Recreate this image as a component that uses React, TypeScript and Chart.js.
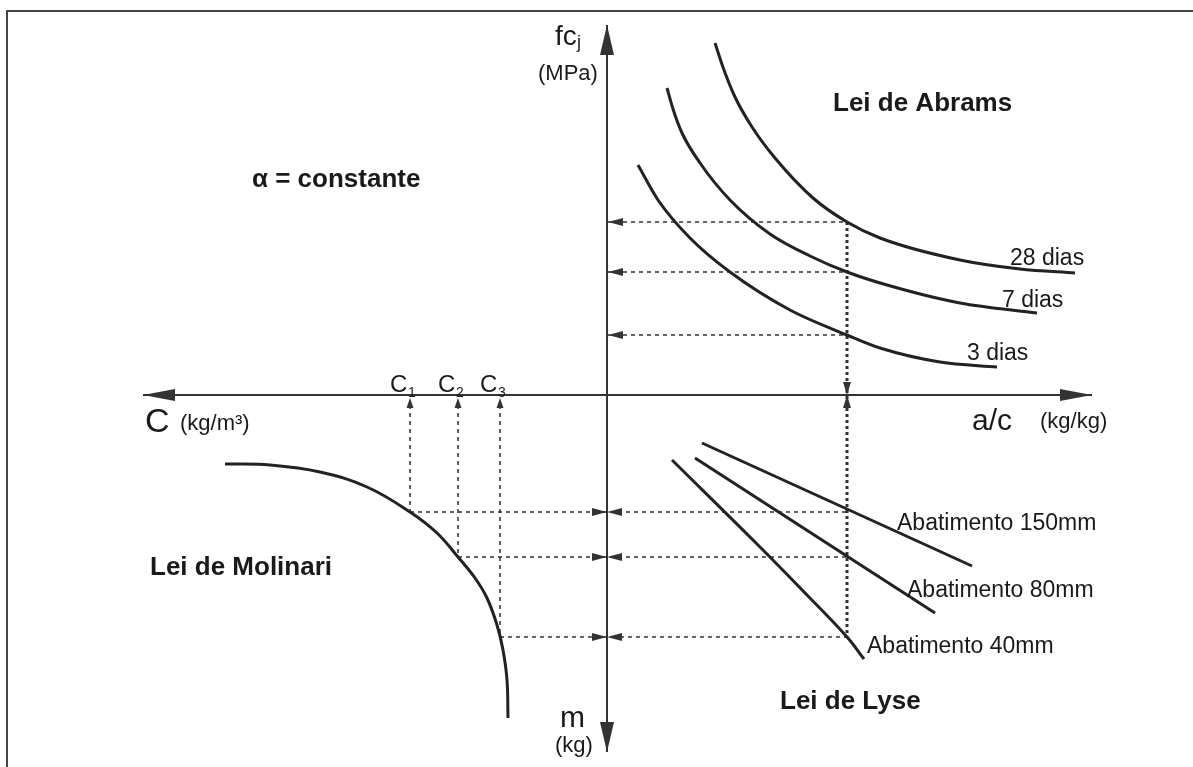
import React, { useEffect, useRef } from "react";
import { Chart, registerables } from "chart.js";

Chart.register(...registerables);

// Diagram coordinates: origin at the crossing of the axes (a/c to the right, fcj up, C to the left, m down)
const abrams28X = [108, 117, 128, 145, 168, 206, 240, 273, 353, 413, 468];
const abrams28Y = [352, 325, 298, 268, 237, 197, 173, 157, 135, 126, 122];
const abrams7X = [60, 66, 75, 93, 123, 163, 203, 240, 280, 353, 430];
const abrams7Y = [307, 286, 262, 232, 195, 161, 139, 123, 110, 92, 82];
const abrams3X = [31, 51, 83, 123, 183, 240, 273, 333, 390];
const abrams3Y = [230, 195, 157, 123, 85, 60, 47, 33, 28];

const lyse150X = [95, 365];
const lyse150Y = [-48, -171];
const lyse80X = [88, 328];
const lyse80Y = [-63, -218];
const lyse40X = [65, 150, 200, 240, 257];
const lyse40Y = [-65, -149, -200, -242, -264];

const molinariX = [-382, -337, -287, -240, -197, -170, -149, -132, -120, -110, -104, -100, -99];
const molinariY = [-69, -70, -77, -92, -117, -138, -162, -183, -203, -230, -255, -285, -323];

// Reading construction: chosen a/c and the read values
const acChosen = 240;
const fcRead = [173, 123, 60];
const mRead = [-117, -162, -242];
const cRead = [-197, -149, -107];
const cLabels = ["1", "2", "3"];

const axisX = [-464, 485];
const axisY = [-357, 370];

const pts = (xs: number[], ys: number[]) => xs.map((x, i) => ({ x, y: ys[i] }));

export default function App() {
  const ref = useRef<HTMLCanvasElement | null>(null);

  useEffect(() => {
    if (!ref.current) return;
    const ink = "#222";
    const curve = (data: any[]) => ({
      data,
      showLine: true,
      borderColor: ink,
      borderWidth: 3,
      pointRadius: 0,
      cubicInterpolationMode: "monotone" as const,
      fill: false,
      clip: false as any,
    });
    const smooth = (data: any[]) => ({
      data,
      showLine: true,
      borderColor: ink,
      borderWidth: 3,
      pointRadius: 0,
      tension: 0.4,
      fill: false,
      clip: false as any,
    });
    const straight = (data: any[], width = 3) => ({
      data,
      showLine: true,
      borderColor: ink,
      borderWidth: width,
      pointRadius: 0,
      tension: 0,
      fill: false,
      clip: false as any,
    });
    const guide = (data: any[], width = 1.5, dash = [4, 4]) => ({
      data,
      showLine: true,
      borderColor: "#333",
      borderWidth: width,
      borderDash: dash,
      pointRadius: 0,
      tension: 0,
      fill: false,
    });

    const datasets: any[] = [
      // axes
      { ...straight(pts([0, 0], axisY), 2), borderColor: "#333" },
      { ...straight(pts(axisX, [0, 0]), 2), borderColor: "#333" },
      // Abrams
      curve(pts(abrams28X, abrams28Y)),
      curve(pts(abrams7X, abrams7Y)),
      curve(pts(abrams3X, abrams3Y)),
      // Lyse
      straight(pts(lyse150X, lyse150Y)),
      straight(pts(lyse80X, lyse80Y)),
      smooth(pts(lyse40X, lyse40Y)),
      // Molinari
      smooth(pts(molinariX, molinariY)),
      // vertical reading line
      guide([{ x: acChosen, y: fcRead[0] }, { x: acChosen, y: mRead[2] }], 3, [3, 3]),
    ];
    fcRead.forEach((y) => datasets.push(guide([{ x: 0, y }, { x: acChosen, y }])));
    mRead.forEach((y, i) => {
      datasets.push(guide([{ x: cRead[i], y }, { x: acChosen, y }]));
      datasets.push(guide([{ x: cRead[i], y: -10 }, { x: cRead[i], y }]));
    });

    const annot = {
      id: "annot",
      beforeDraw(chart: any) {
        const c = chart.ctx;
        c.save();
        c.fillStyle = "#fff";
        c.fillRect(0, 0, chart.width, chart.height);
        c.strokeStyle = "#444";
        c.lineWidth = 2;
        c.beginPath();
        c.moveTo(7, chart.height);
        c.lineTo(7, 11);
        c.lineTo(chart.width, 11);
        c.stroke();
        c.restore();
      },
      afterDraw(chart: any) {
        const c = chart.ctx;
        const sx = chart.scales.x;
        const sy = chart.scales.y;
        const X = (v: number) => sx.getPixelForValue(v);
        const Y = (v: number) => sy.getPixelForValue(v);
        c.save();
        c.fillStyle = "#333";
        const tri = (tx: number, ty: number, dx: number, dy: number, len: number, hw: number) => {
          const bx = tx - dx * len;
          const by = ty - dy * len;
          c.beginPath();
          c.moveTo(tx, ty);
          c.lineTo(bx - dy * hw, by + dx * hw);
          c.lineTo(bx + dy * hw, by - dx * hw);
          c.closePath();
          c.fill();
        };
        // axis arrows
        tri(X(0), Y(axisY[1]), 0, -1, 30, 7);
        tri(X(0), Y(axisY[0]), 0, 1, 30, 7);
        tri(X(axisX[0]), Y(0), -1, 0, 32, 6);
        tri(X(axisX[1]), Y(0), 1, 0, 32, 6);
        // fc reading arrows
        fcRead.forEach((v) => tri(X(0) + 1, Y(v), -1, 0, 15, 4));
        // C arrows
        cRead.forEach((v) => tri(X(v), Y(0) + 3, 0, -1, 10, 3.5));
        // bowties on m axis
        mRead.forEach((v) => {
          tri(X(0), Y(v), 1, 0, 15, 4);
          tri(X(0), Y(v), -1, 0, 15, 4);
        });
        // bowtie at chosen a/c
        tri(X(acChosen), Y(0), 0, 1, 13, 4);
        tri(X(acChosen), Y(0), 0, -1, 13, 4);

        c.fillStyle = "#1a1a1a";
        c.textBaseline = "alphabetic";
        c.textAlign = "left";
        const F = "'Liberation Sans', Arial, sans-serif";
        const txt = (s: string, x: number, y: number, size: number, bold = false) => {
          c.font = `${bold ? "bold " : ""}${size}px ${F}`;
          c.fillText(s, X(x), Y(y));
        };
        txt("Lei de Abrams", 226, 284, 26, true);
        txt("α = constante", -355, 208, 26, true);
        txt("Lei de Molinari", -457, -180, 26, true);
        txt("Lei de Lyse", 173, -314, 26, true);
        txt("28 dias", 403, 130, 23);
        txt("7 dias", 395, 88, 23);
        txt("3 dias", 360, 35, 23);
        txt("Abatimento 150mm", 290, -135, 23);
        txt("Abatimento 80mm", 300, -202, 23);
        txt("Abatimento 40mm", 260, -258, 23);
        txt("fc", -52, 350, 28);
        txt("j", -30, 347, 18);
        txt("(MPa)", -69, 315, 22);
        txt("C", -462, -37, 34);
        txt("(kg/m³)", -427, -35, 22);
        cRead.forEach((v, i) => {
          txt("C", v - 20, 3, 24);
          txt(cLabels[i], v - 2, -2, 14);
        });
        txt("a/c", 365, -35, 30);
        txt("(kg/kg)", 433, -33, 22);
        txt("m", -47, -332, 30);
        txt("(kg)", -52, -357, 22);
        c.restore();
      },
    };

    const chart = new Chart(ref.current, {
      type: "scatter",
      data: { datasets },
      options: {
        animation: false,
        responsive: false,
        maintainAspectRatio: false,
        layout: { padding: 0 },
        plugins: { legend: { display: false }, tooltip: { enabled: false } },
        events: [],
        scales: {
          x: { type: "linear", min: -607, max: 586, display: false },
          y: { type: "linear", min: -372, max: 395, display: false },
        },
      },
      plugins: [annot],
    });
    return () => chart.destroy();
  }, []);

  return (
    <div style={{ position: "fixed", left: 0, top: 0, width: 1193, height: 767, background: "#fff" }}>
      <canvas ref={ref} width={1193} height={767} />
    </div>
  );
}
